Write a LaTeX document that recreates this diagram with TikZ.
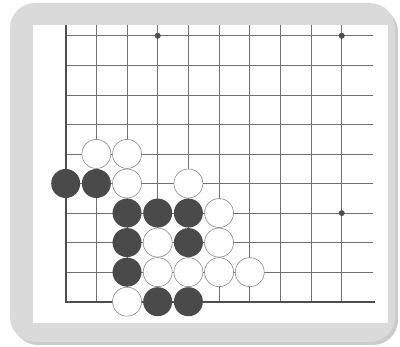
\documentclass[tikz,border=0pt]{standalone}
\definecolor{framegray}{HTML}{DADADA}
\definecolor{shadowgray}{HTML}{CBCBCB}
\definecolor{gridgray}{HTML}{707070}
\definecolor{edgegray}{HTML}{4E4E4E}
\definecolor{stonegray}{HTML}{8A8A8A}
\definecolor{blackstone}{HTML}{4A4A4A}
\tikzset{
  gridline/.style={draw=gridgray, line width=0.6pt},
  edgeline/.style={draw=edgegray, line width=2pt},
  wstone/.style={circle, draw=stonegray, fill=white, line width=0.6pt, minimum size=29pt, inner sep=0pt},
  bstone/.style={circle, fill=blackstone, minimum size=29pt, inner sep=0pt},
  starpt/.style={circle, fill=edgegray, minimum size=6pt, inner sep=0pt}
}
\begin{document}
\begin{tikzpicture}[x=1pt,y=-1pt]
  \useasboundingbox (0,0) rectangle (400,347);
  % frame
  \fill[shadowgray, rounded corners=25pt] (13,7) rectangle (398,345);
  \fill[framegray, rounded corners=25pt] (10,3) rectangle (395,342);
  \fill[white] (33,25) rectangle (388,323);
  % grid
  \foreach \r in {0,...,9}
    \draw[gridline] (65.7,{301.7-29.55*\r}) -- (373,{301.7-29.55*\r});
  \foreach \c in {0,...,9}
    \draw[gridline] ({65.7+30.67*\c},25) -- ({65.7+30.67*\c},301.7);
  % edges
  \draw[edgeline] (65.7,25) -- (65.7,301.7) -- (375,301.7);
  % star points
  \foreach \c/\r/\n in {3/9/a, 9/9/b, 9/3/c}
    \node[starpt] (star\n) at ({65.7+30.67*\c},{301.7-29.55*\r}) {};
  % white stones
  \foreach \c/\r/\n in {1/5/1, 2/5/2, 2/4/3, 4/4/4, 5/3/5, 3/2/6, 5/2/7, 3/1/8, 4/1/9, 5/1/10, 6/1/11, 2/0/12}
    \node[wstone] (w\n) at ({65.7+30.67*\c},{301.7-29.55*\r}) {};
  % black stones
  \foreach \c/\r/\n in {0/4/1, 1/4/2, 2/3/3, 3/3/4, 4/3/5, 2/2/6, 4/2/7, 2/1/8, 3/0/9, 4/0/10}
    \node[bstone] (b\n) at ({65.7+30.67*\c},{301.7-29.55*\r}) {};
\end{tikzpicture}
\end{document}
